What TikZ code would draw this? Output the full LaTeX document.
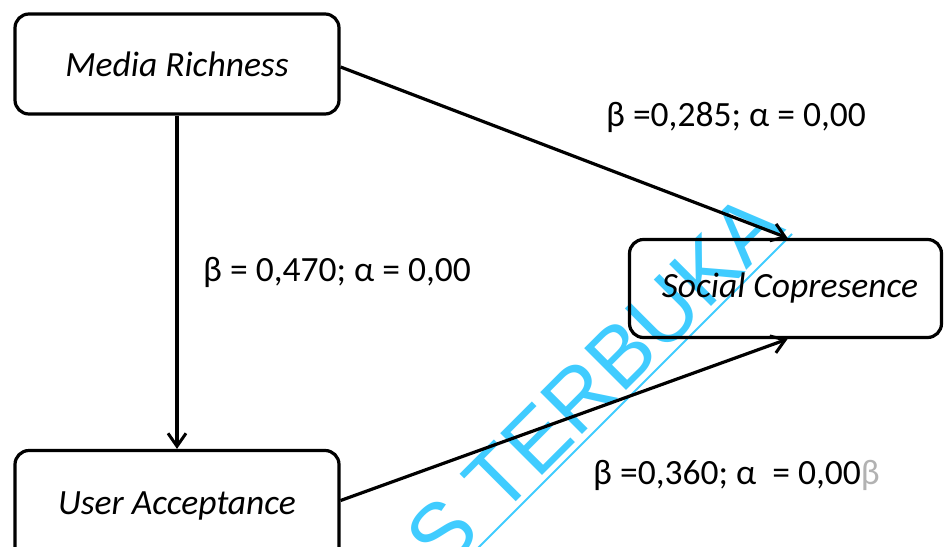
\documentclass[tikz,border=0pt]{standalone}
\usepackage{fontspec}
\setmainfont{Carlito}
\newfontfamily\wmfont{Liberation Sans}
\usetikzlibrary{arrows.meta}
\definecolor{wmcyan}{RGB}{64,204,255}
\begin{document}
\begin{tikzpicture}[x=1pt,y=-1pt,
  box/.style={draw, line width=3.2pt, rounded corners=14pt, minimum width=324pt,
    minimum height=100pt, inner sep=0pt, font=\fontsize{35.5}{40}\selectfont\itshape},
  lbl/.style={inner sep=0pt, font=\fontsize{35.5}{40}\selectfont},
  link/.style={line width=3.2pt, -{Straight Barb[length=13pt,width=18pt,line width=3pt]}},
  wmtext/.style={inner sep=0pt, text=wmcyan, rotate=45, font=\wmfont\fontsize{86}{86}\selectfont}
]
\useasboundingbox (0,0) rectangle (944,546);
\clip (0,0) rectangle (944,546);

% construct boxes
\node[box] (mr) at (177,64) {Media Richness};
\node[box, minimum width=312pt, minimum height=98pt] (sc) at (785.5,288.5) {\hspace*{9pt}Social Copresence};
\node[box, minimum height=110pt] (ua) at (177,505.5) {User Acceptance};

% paths between constructs
\draw[link] ([yshift=-3pt]mr.east) -- ([xshift=2pt]sc.north);
\draw[link] (mr.south) -- (ua.north);
\draw[link] ([yshift=5pt]ua.east) -- ([xshift=2pt]sc.south);

% path coefficients
\node[lbl] (c1) at (736,117) {β =0,285; α = 0,00};
\node[lbl] (c2) at (337,272) {β = 0,470; α = 0,00};
\node[lbl, anchor=west] (c3) at (593,475) {β =0,360; α\ \ = 0,00{\color{black!30}β}};

% watermark
\begin{scope}[blend mode=multiply]
  \node[wmtext, anchor=base west] (wm) at (442.5,575) {S TERBUKA};
  \draw[wmcyan, line width=2pt] (440,586) -- (792,234);
\end{scope}
\end{tikzpicture}
\end{document}
